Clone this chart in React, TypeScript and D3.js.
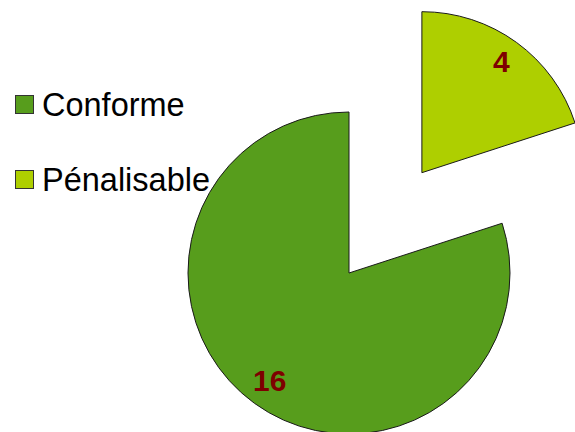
import React from "react";
import * as d3 from "d3";

const categories = ["Conforme", "Pénalisable"];
const values = [16, 4];
const colors = ["#579d1c", "#aecf00"];
const exploded = [false, true];

const W = 575;
const H = 432;
const cx = 349;
const cy = 273;
const R = 161;
const explodeDist = 124;
const labelR = 135;

export default function App() {
  const total = d3.sum(values);
  const start = (2 * Math.PI * values[1]) / total;
  const pie = d3
    .pie<number>()
    .sort(null)
    .value((d) => d)
    .startAngle(start)
    .endAngle(start + 2 * Math.PI);
  const arcs = pie(values);
  const arc = d3.arc<d3.PieArcDatum<number>>().innerRadius(0).outerRadius(R);

  return (
    <svg
      width={W}
      height={H}
      style={{ position: "absolute", left: 0, top: 0 }}
      fontFamily="'Liberation Sans', Arial, sans-serif"
    >
      <rect width={W} height={H} fill="#fff" />
      {arcs.map((a, i) => {
        const mid = (a.startAngle + a.endAngle) / 2;
        const off = exploded[i] ? explodeDist : 0;
        const ox = cx + Math.sin(mid) * off;
        const oy = cy - Math.cos(mid) * off;
        const lx = Math.sin(mid) * labelR;
        const ly = -Math.cos(mid) * labelR;
        return (
          <g key={categories[i]} transform={`translate(${ox},${oy})`}>
            <path d={arc(a) || ""} fill={colors[i]} stroke="#1a1a1a" strokeWidth={1} />
            <text
              x={lx}
              y={ly + 9}
              textAnchor="middle"
              fontWeight="bold"
              fontSize={30}
              fill="#7e0000"
            >
              {values[i]}
            </text>
          </g>
        );
      })}
      {categories.map((c, i) => (
        <g key={c} transform={`translate(15,${95 + i * 75})`}>
          <rect x={0.5} y={0.5} width={18} height={18} fill={colors[i]} stroke="#333" strokeWidth={1} />
          <text x={27} y={21} fontSize={32.5} fill="#000">
            {c}
          </text>
        </g>
      ))}
    </svg>
  );
}
